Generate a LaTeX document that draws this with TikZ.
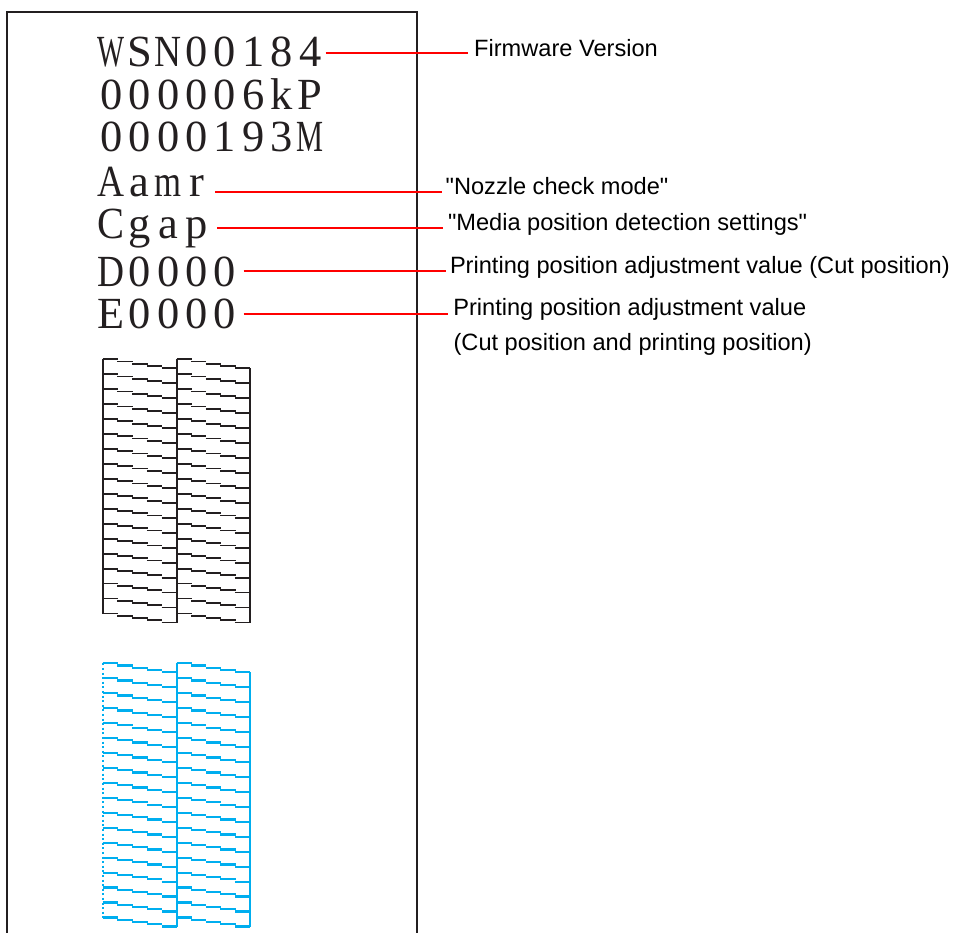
\documentclass[tikz,border=0pt]{standalone}
\usepackage{fontspec}
\usepackage{graphicx}
\setmainfont{Liberation Serif}
\newfontfamily\labelfont{Liberation Sans}
\definecolor{ink}{HTML}{231F20}
\definecolor{leadred}{HTML}{FF0000}
\definecolor{cyanink}{RGB}{0,174,239}
\newlength\glyphw
\newcommand\monocell[1]{\settowidth\glyphw{#1}%
  \makebox[28.4pt]{\ifdim\glyphw>27pt\resizebox{27pt}{\height}{#1}\else#1\fi}}
\def\monoloop#1{\ifx#1\relax\else\monocell{#1}\expandafter\monoloop\fi}
\newcommand\monotext[1]{\monoloop#1\relax}
\newcommand\dq{\XeTeXglyph\XeTeXcharglyph"22 }
% #1 = top y, #2 = colour, #3 = style of leftmost vertical, #4 = width of dashes
\newcommand\nozzlecheck[4]{%
  \draw[#2, line width=2pt, #3] (102.5,#1) -- ++(0,254.2);
  \draw[#2, line width=2pt] (176.5,#1) -- ++(0,263.2);
  \draw[#2, line width=2pt] (249.5,#1+9) -- ++(0,254.2);
  \foreach \xl/\xr in {102.5/176.5,176.5/249.5}{
    \foreach \k in {0,...,17}{
      \foreach \j in {0,...,4}{
        \draw[#2, line width=#4]
          ({\xl+\j*(\xr-\xl)/5}, {#1+\k*14.95+\j*2.25}) -- ++({(\xr-\xl)/5+0.6},0);
      }
    }
  }
}
\begin{document}
\begin{tikzpicture}[x=1pt,y=-1pt,
  val/.style={anchor=base west, inner sep=0pt, text=ink,
    font=\fontsize{44.5}{44.5}\selectfont},
  lab/.style={anchor=base west, inner sep=0pt, text=black,
    font=\labelfont\fontsize{23.6}{23.6}\selectfont},
  leader/.style={draw=leadred, line width=2pt},
  paperframe/.style={draw=ink, line width=2.3pt}]
\useasboundingbox (0,0) rectangle (963,932);
% paper strip
\draw[paperframe] (7,940) -- (7,12.3) -- (417,12.3) -- (417,940);
% printed values
\node[val] (wsn)  at (97,66.7)  {\monotext{WSN00184}};
\node[val] (kp)   at (97,109.3) {\monotext{000006kP}};
\node[val] (mval) at (97,151.7) {\monotext{0000193M}};
\node[val] (aamr) at (97,196)   {\monotext{Aamr}};
\node[val] (cgap) at (97,238.5) {\monotext{Cgap}};
\node[val] (dval) at (97,286)   {\monotext{D0000}};
\node[val] (evalue) at (97,328.3) {\monotext{E0000}};
% labels
\node[lab] (fw) at (474,56)    {Firmware Version};
\node[lab] (nz) at (445.5,194) {\dq Nozzle check mode\dq};
\node[lab] (md) at (447.8,230) {\dq Media position detection settings\dq};
\node[lab] (pc) at (449.8,273.3) {Printing position adjustment value (Cut position)};
\node[lab] (pe) at (453.1,315.7) {Printing position adjustment value};
\node[lab] (pe2) at (453.4,350) {(Cut position and printing position)};
\coordinate (fwp) at ([xshift=-6pt,yshift=2.6pt]fw.base west);
\coordinate (nzp) at ([xshift=-4pt,yshift=2.3pt]nz.base west);
\coordinate (mdp) at ([xshift=-5pt,yshift=2pt]md.base west);
\coordinate (pcp) at ([xshift=-4pt,yshift=2.6pt]pc.base west);
\coordinate (pep) at ([xshift=-5pt,yshift=2pt]pe.base west);
% leaders
\draw[leader, shorten <=1pt] (wsn.east |- fwp) -- (fwp);
\draw[leader, shorten <=4.4pt] (aamr.east |- nzp) -- (nzp);
\draw[leader, shorten <=6.4pt] (cgap.east |- mdp) -- (mdp);
\draw[leader, shorten <=4.3pt] (dval.east |- pcp) -- (pcp);
\draw[leader, shorten <=4.3pt] (evalue.east |- pep) -- (pep);
% nozzle check patterns
\nozzlecheck{359.3}{ink}{}{1.8pt}
\nozzlecheck{663.3}{cyanink}{dash pattern=on 2pt off 2.6pt}{2.2pt}
\end{tikzpicture}
\end{document}
